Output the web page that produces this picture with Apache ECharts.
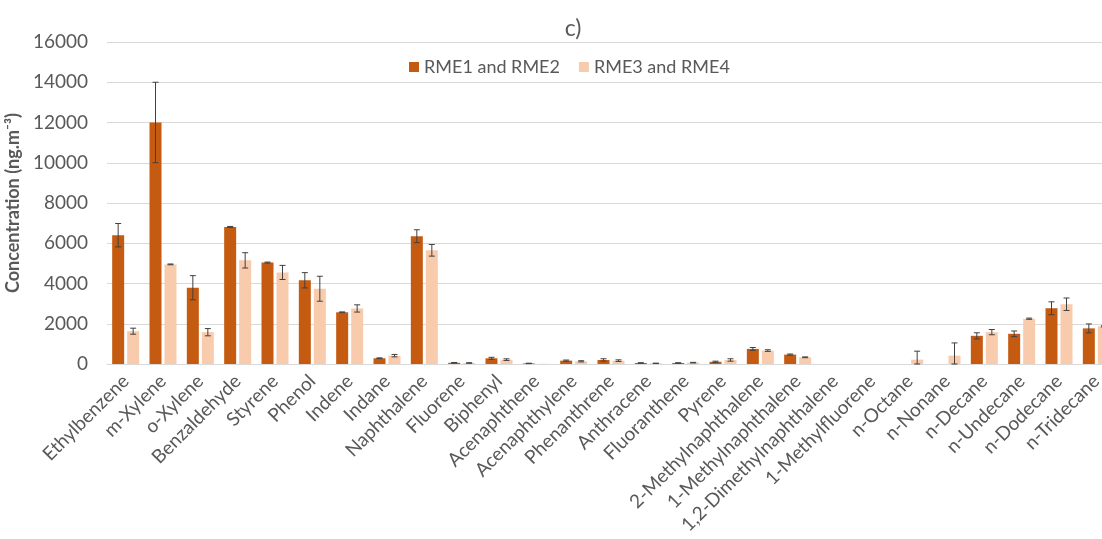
<!DOCTYPE html>
<html>
<head>
<meta charset="utf-8">
<script src="https://cdn.jsdelivr.net/npm/echarts@6/dist/echarts.min.js"></script>
<style>html,body{margin:0;padding:0;background:#fff}#c{width:1102px;height:539px}</style>
</head>
<body>
<div id="c"></div>
<script>
const categories = ['Ethylbenzene','m-Xylene','o-Xylene','Benzaldehyde','Styrene','Phenol','Indene','Indane','Naphthalene','Fluorene','Biphenyl','Acenaphthene','Acenaphthylene','Phenanthrene','Anthracene','Fluoranthene','Pyrene','2-Methylnaphthalene','1-Methylnaphthalene','1,2-Dimethylnaphthalene','1-Methylfluorene','n-Octane','n-Nonane','n-Decane','n-Undecane','n-Dodecane','n-Tridecane'];
const seriesNames = ['RME1 and RME2', 'RME3 and RME4'];
const rme12 = [6400, 12000, 3790, 6810, 5040, 4160, 2570, 285, 6350, 60, 283, 30, 167, 200, 50, 50, 110, 750, 467, 0, 0, 0, 0, 1400, 1500, 2770, 1770];
const rme12Err = [580, 2000, 600, 25, 25, 380, 20, 20, 320, 15, 50, 10, 30, 60, 15, 15, 30, 70, 30, 0, 0, 0, 0, 150, 140, 320, 220];
const rme34 = [1630, 4950, 1580, 5150, 4550, 3740, 2760, 415, 5650, 50, 217, 10, 133, 167, 33, 67, 200, 667, 333, 0, 0, 217, 417, 1583, 2250, 2970, 1870];
const rme34Err = [150, 20, 180, 380, 350, 620, 180, 60, 290, 15, 40, 0, 30, 40, 10, 15, 60, 40, 20, 0, 0, 420, 630, 130, 30, 310, 30];
const yTicks = { min: 0, max: 16000, interval: 2000 };

const FONT = 'Lato';
const TXT = '#595959';
const BAR_W = 12, BAR_GAP = 3;

function errData(vals, errs) {
  const out = [];
  vals.forEach((v, i) => { if (errs[i] > 0) out.push([i, Math.max(0, v - errs[i]), v + errs[i]]); });
  return out;
}
function errSeries(vals, errs, sign) {
  return {
    type: 'custom',
    z: 10,
    silent: true,
    data: errData(vals, errs),
    encode: { x: 0, y: [1, 2] },
    renderItem: function (params, api) {
      const i = api.value(0);
      const lo = api.coord([i, api.value(1)]);
      const hi = api.coord([i, api.value(2)]);
      const x = lo[0] + sign * (BAR_W + BAR_GAP) / 2;
      const cap = 3;
      const style = { stroke: '#404040', lineWidth: 1 };
      return {
        type: 'group',
        children: [
          { type: 'line', shape: { x1: x, y1: lo[1], x2: x, y2: hi[1] }, style },
          { type: 'line', shape: { x1: x - cap, y1: hi[1], x2: x + cap, y2: hi[1] }, style },
          { type: 'line', shape: { x1: x - cap, y1: lo[1], x2: x + cap, y2: lo[1] }, style }
        ]
      };
    }
  };
}

const chart = echarts.init(document.getElementById('c'));
chart.setOption({
  animation: false,
  textStyle: { fontFamily: FONT },
  title: {
    text: 'c)', left: 568, top: 12, textAlign: 'center',
    textStyle: { fontFamily: FONT, fontSize: 23, fontWeight: 'normal', color: TXT }
  },
  legend: {
    data: seriesNames, left: 404, top: 53, icon: 'rect', itemWidth: 10, itemHeight: 10, itemGap: 19,
    textStyle: { fontFamily: FONT, fontSize: 18, color: TXT }
  },
  grid: { left: 107, right: -13, top: 42, bottom: 175, outerBoundsMode: 'none' },
  xAxis: {
    type: 'category', data: categories,
    axisLine: { lineStyle: { color: '#d9d9d9' } },
    axisTick: { show: false },
    axisLabel: { rotate: 45, interval: 0, margin: 14, fontFamily: FONT, fontSize: 19, color: TXT }
  },
  yAxis: {
    type: 'value', min: yTicks.min, max: yTicks.max, interval: yTicks.interval,
    name: 'Concentration (ng.m⁻³)', nameLocation: 'middle', nameGap: 69, nameRotate: 90,
    nameTextStyle: { fontFamily: FONT, fontSize: 18, fontWeight: 'bold', color: TXT },
    axisLine: { show: false }, axisTick: { show: false },
    axisLabel: { margin: 19, fontFamily: FONT, fontSize: 19, color: TXT, formatter: v => String(v) },
    splitLine: { lineStyle: { color: '#d9d9d9' } }
  },
  series: [
    { name: seriesNames[0], type: 'bar', data: rme12, barWidth: BAR_W, barGap: (BAR_GAP / BAR_W * 100) + '%', itemStyle: { color: '#C55A11' } },
    { name: seriesNames[1], type: 'bar', data: rme34, barWidth: BAR_W, itemStyle: { color: '#F8CBAD' } },
    errSeries(rme12, rme12Err, -1),
    errSeries(rme34, rme34Err, 1)
  ]
});
</script>
</body>
</html>
